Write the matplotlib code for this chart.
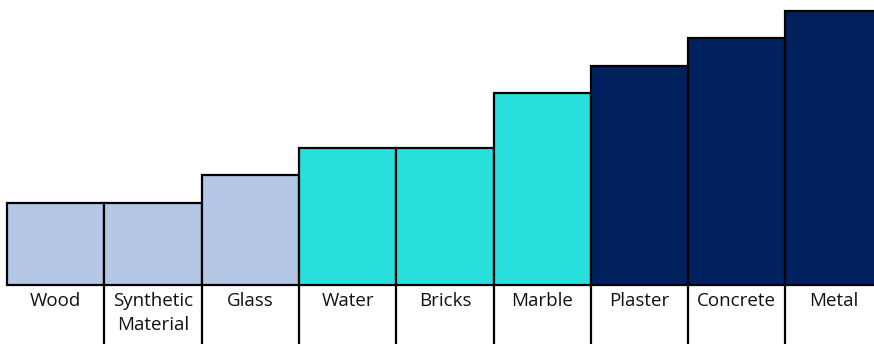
import matplotlib
matplotlib.use("Agg")
import matplotlib.pyplot as plt

materials = ["Wood", "Synthetic\nMaterial", "Glass", "Water", "Bricks",
             "Marble", "Plaster", "Concrete", "Metal"]
values = [3, 3, 4, 5, 5, 7, 8, 9, 10]
groups = [0, 0, 0, 1, 1, 1, 2, 2, 2]

group_colors = ["#B4C7E7", "#29DFDB", "#00215E"]

plt.rcParams['font.family'] = ['Open Sans', 'DejaVu Sans']

fig = plt.figure(figsize=(8.74, 3.44), dpi=100)
ax = fig.add_axes([0, 0, 1, 1])

x = list(range(len(values)))
ax.bar(x, values, width=1.0, align='edge',
       color=[group_colors[g] for g in groups],
       edgecolor='black', linewidth=1.6)

# label row under the bars: cell separators
for i in range(1, len(values) + 1):
    ax.plot([i, i], [-3, 0], color='black', linewidth=1.6)

for i, name in enumerate(materials):
    ax.text(i + 0.5, -0.25, name, ha='center', va='top', fontsize=13.5,
            linespacing=1.45, color='#111111')

ax.set_xlim(-0.072, 8.91)
ax.set_ylim(-2.15, 10.4)
ax.axis('off')

fig.savefig("out.png", dpi=100)
